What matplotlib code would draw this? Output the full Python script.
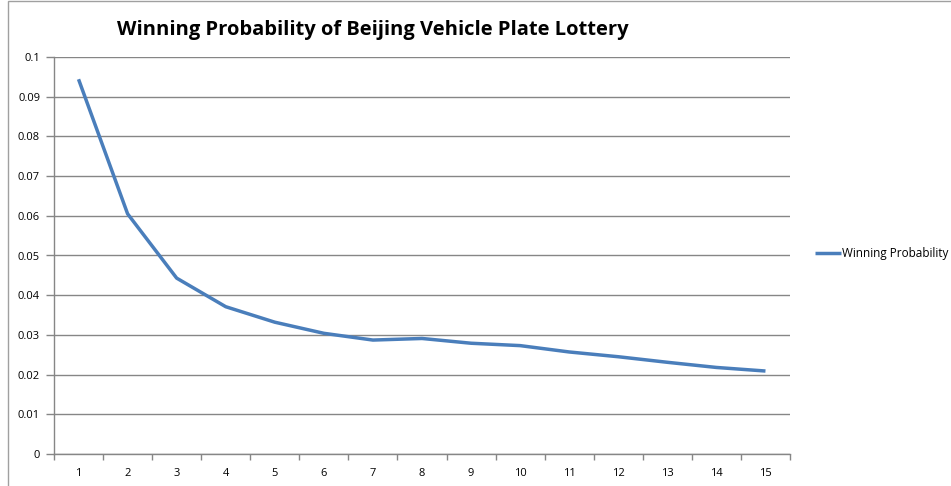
import matplotlib.pyplot as plt
import numpy as np
from matplotlib.patches import Rectangle

# data
attempts = list(range(1, 16))
win_prob = [0.0944, 0.0605, 0.0443, 0.0371, 0.0332, 0.0304, 0.0287, 0.0291,
            0.0279, 0.0273, 0.0257, 0.0245, 0.0231, 0.0218, 0.0209]
y_ticks = [0, 0.01, 0.02, 0.03, 0.04, 0.05, 0.06, 0.07, 0.08, 0.09, 0.1]
title = 'Winning Probability of Beijing Vehicle Plate Lottery'
series_name = 'Winning Probability'

plt.rcParams['font.family'] = ['Open Sans', 'DejaVu Sans']

W, H = 951, 486
fig = plt.figure(figsize=(W / 100, H / 100), dpi=100)

# outer chart border (right edge sits just past the picture)
fig.patches.append(Rectangle((8 / W, -0.01), (W + 5) / W, (H - 1.5) / H + 0.01,
                             transform=fig.transFigure, fill=False,
                             edgecolor='#a0a0a0', linewidth=1))

ax = fig.add_axes([54 / W, (H - 454) / H, (790 - 54) / W, (454 - 57) / H])

line, = ax.plot(attempts, win_prob, color='#4a7ebb', linewidth=2.5,
                solid_joinstyle='round', solid_capstyle='butt')

ax.set_xlim(0.5, 15.5)
ax.set_ylim(0, 0.1)
ax.set_yticks(y_ticks)
ax.set_yticklabels([f'{v:g}' for v in y_ticks])
ax.set_xticks(attempts)
ax.set_xticks(np.arange(0.5, 16, 1), minor=True)

ax.grid(axis='y', color='#868686', linewidth=1)
ax.set_axisbelow(True)
for side in ['top', 'right']:
    ax.spines[side].set_visible(False)
for side in ['left', 'bottom']:
    ax.spines[side].set_color('#868686')
    ax.spines[side].set_linewidth(1)

ax.tick_params(axis='y', length=6, width=1, color='#868686', labelsize=8,
               pad=4)
ax.tick_params(axis='x', which='major', length=0, labelsize=8, pad=10)
ax.tick_params(axis='x', which='minor', length=4, width=1, color='#868686')

fig.text(373 / W, 1 - 30 / H, title, ha='center', va='center',
         fontsize=14.5, fontweight='bold')

# legend on the right
fig.legend([line], [series_name], loc='center left',
           bbox_to_anchor=(810 / W, 1 - 254 / H), frameon=False,
           fontsize=8.5, handlelength=2.2, handletextpad=0.1,
           borderaxespad=0)

fig.savefig('out.png', dpi=100)
